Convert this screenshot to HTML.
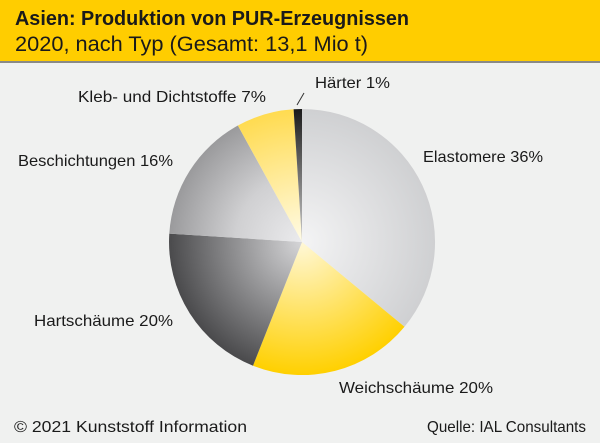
<!DOCTYPE html>
<html><head><meta charset="utf-8"><style>
body{margin:0;width:600px;height:443px;overflow:hidden;background:#f0f1f0;font-family:"Liberation Sans",sans-serif;}
</style></head><body>
<svg width="600" height="443" xmlns="http://www.w3.org/2000/svg" style="position:absolute;left:0;top:0">
<defs>
<radialGradient id="g1" cx="302" cy="242" r="133" gradientUnits="userSpaceOnUse"><stop offset="0" stop-color="#f4f4f5"/><stop offset="1" stop-color="#cfd0d2"/></radialGradient>
<radialGradient id="y1" cx="302" cy="242" r="133" gradientUnits="userSpaceOnUse"><stop offset="0" stop-color="#fff8d8"/><stop offset="1" stop-color="#ffd000"/></radialGradient>
<radialGradient id="d1" cx="302" cy="242" r="133" gradientUnits="userSpaceOnUse"><stop offset="0" stop-color="#d6d6d8"/><stop offset="1" stop-color="#4a4a4c"/></radialGradient>
<radialGradient id="b1" cx="302" cy="242" r="133" gradientUnits="userSpaceOnUse"><stop offset="0" stop-color="#ebebed"/><stop offset="0.5" stop-color="#d0d0d2"/><stop offset="1" stop-color="#9a9a9c"/></radialGradient>
<radialGradient id="k1" cx="302" cy="242" r="133" gradientUnits="userSpaceOnUse"><stop offset="0" stop-color="#fffbe6"/><stop offset="1" stop-color="#ffdb50"/></radialGradient>
<radialGradient id="h1" cx="302" cy="242" r="133" gradientUnits="userSpaceOnUse"><stop offset="0" stop-color="#cccccc"/><stop offset="1" stop-color="#1a1a1a"/></radialGradient>
</defs>
<rect x="0" y="0" width="600" height="61" fill="#ffcd00"/>
<rect x="0" y="61" width="600" height="2" fill="#8a8a86"/>
<text x="15" y="25" font-size="20" font-weight="bold" fill="#1a1a1a" textLength="394" lengthAdjust="spacingAndGlyphs">Asien: Produktion von PUR-Erzeugnissen</text>
<text x="15" y="51" font-size="21" fill="#1a1a1a" textLength="353" lengthAdjust="spacingAndGlyphs">2020, nach Typ (Gesamt: 13,1 Mio t)</text>
<path d="M302,242 L302,109 A133,133 0 0 1 404.5,326.8 Z" fill="url(#g1)"/>
<path d="M302,242 L404.5,326.8 A133,133 0 0 1 253,365.7 Z" fill="url(#y1)"/>
<path d="M302,242 L253,365.7 A133,133 0 0 1 169.3,233.6 Z" fill="url(#d1)"/>
<path d="M302,242 L169.3,233.6 A133,133 0 0 1 237.9,125.5 Z" fill="url(#b1)"/>
<path d="M302,242 L237.9,125.5 A133,133 0 0 1 293.6,109.3 Z" fill="url(#k1)"/>
<path d="M302,242 L293.6,109.3 A133,133 0 0 1 302,109 Z" fill="url(#h1)"/>
<line x1="297" y1="105" x2="304" y2="93" stroke="#333" stroke-width="1"/>
<g font-size="16" fill="#1a1a1a">
<text x="315" y="88" textLength="75" lengthAdjust="spacingAndGlyphs">Härter 1%</text>
<text x="78" y="102" textLength="188" lengthAdjust="spacingAndGlyphs">Kleb- und Dichtstoffe 7%</text>
<text x="423" y="162" textLength="120" lengthAdjust="spacingAndGlyphs">Elastomere 36%</text>
<text x="18" y="166" textLength="155" lengthAdjust="spacingAndGlyphs">Beschichtungen 16%</text>
<text x="34" y="326" textLength="139" lengthAdjust="spacingAndGlyphs">Hartschäume 20%</text>
<text x="339" y="393" textLength="154" lengthAdjust="spacingAndGlyphs">Weichschäume 20%</text>
<text x="14" y="432" textLength="233" lengthAdjust="spacingAndGlyphs">© 2021 Kunststoff Information</text>
<text x="427" y="432" textLength="159" lengthAdjust="spacingAndGlyphs">Quelle: IAL Consultants</text>
</g>
</svg>
</body></html>
